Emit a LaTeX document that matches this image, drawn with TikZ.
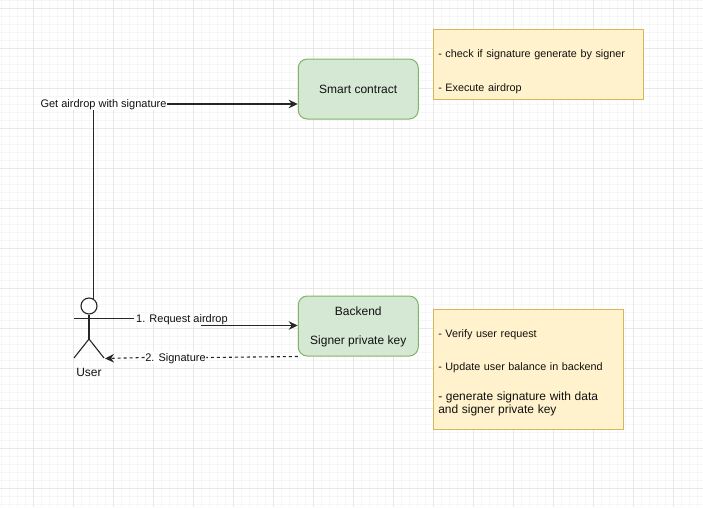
\documentclass[tikz,border=0pt]{standalone}
\usepackage{fontspec}
\setmainfont{Liberation Sans}
\usepackage{xcolor}
\usetikzlibrary{arrows.meta, positioning}
\definecolor{gridminor}{HTML}{F6F6F6}
\definecolor{gridmajor}{HTML}{E8E8E8}
\definecolor{greenfill}{HTML}{D5E8D4}
\definecolor{greenline}{HTML}{82B366}
\definecolor{notefill} {HTML}{FFF2CC}
\definecolor{noteline} {HTML}{D6B656}
\definecolor{darktext} {HTML}{111111}
\tikzset{
  svcbox/.style={
    rectangle, rounded corners=9pt,
    minimum width=120pt, minimum height=60pt,
    align=center, font=\fontsize{12}{14}\selectfont,
    draw=greenline, fill=greenfill, text=darktext, line width=1pt
  },
  notebox/.style={
    rectangle, inner sep=4.5pt, text width=#1-9pt, minimum width=#1,
    align=left, font=\fontsize{10.8}{13}\selectfont,
    draw=noteline, fill=notefill, text=darktext, line width=1pt
  },
  edgelabel/.style={
    fill=white, inner xsep=0.5pt, inner ysep=2pt,
    text height=8pt, text depth=0.5pt,
    font=\fontsize{11}{13}\selectfont, text=darktext
  },
  limb/.style={line width=1.1pt, color=black!85},
  myarrow/.style={-{Stealth[length=9pt,width=8.5pt]}, line width=1.1pt, color=black!85},
  dasharrow/.style={myarrow, dash pattern=on 3pt off 3pt}
}
\begin{document}
\begin{tikzpicture}[x=1pt, y=-1pt, node distance=15pt]
  \useasboundingbox (0,0) rectangle (703,507);

  % grid paper
  \foreach \x in {1,9,...,703}{\draw[gridminor, line width=0.7pt] (\x,0) -- (\x,507);}
  \foreach \y in {0,8,...,507}{\draw[gridminor, line width=0.7pt] (0,\y) -- (703,\y);}
  \foreach \x in {33,73,...,703}{\draw[gridmajor, line width=0.8pt] (\x,0) -- (\x,507);}
  \foreach \y in {8,48,...,507}{\draw[gridmajor, line width=0.8pt] (0,\y) -- (703,\y);}

  \node[svcbox] (contract) at (358.25,89) {Smart contract};
  \node[svcbox, below=176pt of contract] (backend) {%
    \rule{0pt}{11pt}Backend\\[15pt]
    Signer private key};

  \node[notebox=209.5pt, minimum height=70pt, right=14.5pt of contract, yshift=25pt] (checks) {%
    \rule{0pt}{23pt}- check if signature generate by signer\\[21pt]
    - Execute airdrop};
  \node[notebox=189.5pt, minimum height=120pt, right=14.5pt of backend, yshift=-43pt] (tasks) {%
    \rule{0pt}{15pt}- Verify user request\\[20pt]
    - Update user balance in backend\\[16pt]
    {\fontsize{12}{13.5}\selectfont - generate signature with data\\
    and signer private key}};

  % stick figure
  \node[circle, draw=black!85, line width=1.1pt, minimum size=16pt, inner sep=0pt] (head) at (89,306) {};
  \coordinate (armleft)  at (74,318.5);
  \coordinate (armright) at (134,318.5);
  \coordinate (hip)      at (89,339);
  \coordinate (footleft) at (74,358);
  \coordinate (footright) at (104,358);
  \draw[limb] (head.south) -- (hip);
  \draw[limb] (armleft) -- (armright);
  \draw[limb] (footleft) -- (hip) -- (footright);
  \node[font=\fontsize{12}{14}\selectfont, text=darktext, inner sep=0.5pt] (user) at (89,372) {User};

  \node[edgelabel] (getdrop) at (103.5,104) {Get airdrop with signature};
  \node[edgelabel, fill=none, right=1.5pt of armright] (request) {1. Request airdrop};
  \node[edgelabel] (signature) at (175.5,357.5) {2. Signature};

  \coordinate (reqstart) at (200.5,325.5);
  \coordinate (sigtip)   at (105,358.5);

  \draw[limb] (head.55) -- (head.55 |- getdrop.south);
  \draw[myarrow] (getdrop.east) -- (getdrop.east -| contract.west);
  \draw[myarrow] (reqstart) -- (reqstart -| backend.west);
  \draw[limb, dash pattern=on 3pt off 3pt] (backend.south west) -- (signature.east);
  \draw[dasharrow] (signature.west) -- (sigtip);

\end{tikzpicture}
\end{document}
